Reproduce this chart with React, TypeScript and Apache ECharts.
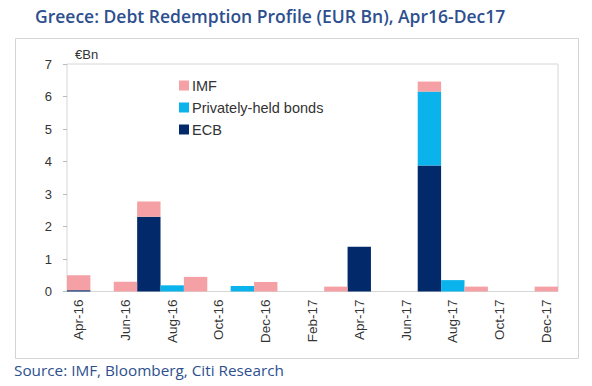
import React, { useEffect, useRef } from "react";
import * as echarts from "echarts";

const months = [
  "Apr-16", "May-16", "Jun-16", "Jul-16", "Aug-16", "Sep-16", "Oct-16", "Nov-16", "Dec-16",
  "Jan-17", "Feb-17", "Mar-17", "Apr-17", "May-17", "Jun-17", "Jul-17", "Aug-17", "Sep-17",
  "Oct-17", "Nov-17", "Dec-17",
];
const ecb = [0.04, 0, 0, 2.3, 0, 0, 0, 0, 0, 0, 0, 0, 1.38, 0, 0, 3.88, 0, 0, 0, 0, 0];
const privateBonds = [0, 0, 0, 0, 0.19, 0, 0, 0.17, 0, 0, 0, 0, 0, 0, 0, 2.27, 0.35, 0, 0, 0, 0];
const imf = [0.46, 0, 0.3, 0.47, 0, 0.45, 0, 0, 0.29, 0, 0, 0.15, 0, 0, 0, 0.31, 0, 0.15, 0, 0, 0.15];
const yTicks = { min: 0, max: 7, interval: 1 };

export default function App() {
  const ref = useRef<HTMLDivElement>(null);
  useEffect(() => {
    if (!ref.current) return;
    const chart = echarts.init(ref.current, null, { renderer: "svg" });
    const font = "'Liberation Sans', Arial, sans-serif";
    chart.setOption({
      animation: false,
      backgroundColor: "#ffffff",
      textStyle: { fontFamily: font },
      graphic: [
        {
          type: "rect",
          shape: { x: 15.5, y: 38.5, width: 563, height: 320 },
          style: { fill: "none", stroke: "#d4d4d4", lineWidth: 1 },
          z: -1,
        },
        {
          type: "text",
          x: 35,
          y: 7,
          style: {
            text: "Greece: Debt Redemption Profile (EUR Bn), Apr16-Dec17",
            fontFamily: "'Open Sans', sans-serif",
            fontWeight: 600,
            fontSize: 17.5,
            fill: "#2d4f8e",
          },
        },
        {
          type: "text",
          x: 14,
          y: 362,
          style: {
            text: "Source: IMF, Bloomberg, Citi Research",
            fontFamily: "'Open Sans', sans-serif",
            fontSize: 15.3,
            fill: "#2d4f8e",
          },
        },
        {
          type: "text",
          x: 75,
          y: 48,
          style: { text: "€Bn", fontFamily: font, fontSize: 13, fill: "#333333" },
        },
      ],
      legend: {
        orient: "vertical",
        left: 174,
        top: 73,
        itemWidth: 10,
        itemHeight: 10,
        itemGap: 7,
        data: ["IMF", "Privately-held bonds", "ECB"],
        textStyle: { fontFamily: font, fontSize: 14.5, color: "#333333", padding: [0, 0, 0, -2] },
        icon: "rect",
      },
      grid: {
        left: 67,
        right: 34,
        top: 64,
        bottom: 94.5,
        show: true,
        borderColor: "#d6d6d6",
        borderWidth: 1,
      },
      xAxis: {
        type: "category",
        data: months,
        axisLine: { show: false },
        axisTick: { show: false },
        axisLabel: {
          interval: 1,
          rotate: 90,
          fontFamily: font,
          fontSize: 13.5,
          color: "#333333",
          margin: 8,
        },
      },
      yAxis: {
        type: "value",
        min: yTicks.min,
        max: yTicks.max,
        interval: yTicks.interval,
        splitLine: { show: false },
        axisLine: { show: false },
        axisTick: { show: true, length: 4, lineStyle: { color: "#bbbbbb" } },
        axisLabel: { fontFamily: font, fontSize: 13, color: "#333333", margin: 15 },
      },
      series: [
        {
          name: "ECB",
          type: "bar",
          stack: "total",
          data: ecb,
          barCategoryGap: "0%",
          itemStyle: { color: "#022a6b" },
        },
        {
          name: "Privately-held bonds",
          type: "bar",
          stack: "total",
          data: privateBonds,
          barCategoryGap: "0%",
          itemStyle: { color: "#0ab3ec" },
        },
        {
          name: "IMF",
          type: "bar",
          stack: "total",
          data: imf,
          barCategoryGap: "0%",
          itemStyle: { color: "#f5a0a4" },
        },
      ],
    });
    return () => chart.dispose();
  }, []);
  return (
    <div
      ref={ref}
      style={{ position: "fixed", left: 0, top: 0, width: 592, height: 386 }}
    />
  );
}
